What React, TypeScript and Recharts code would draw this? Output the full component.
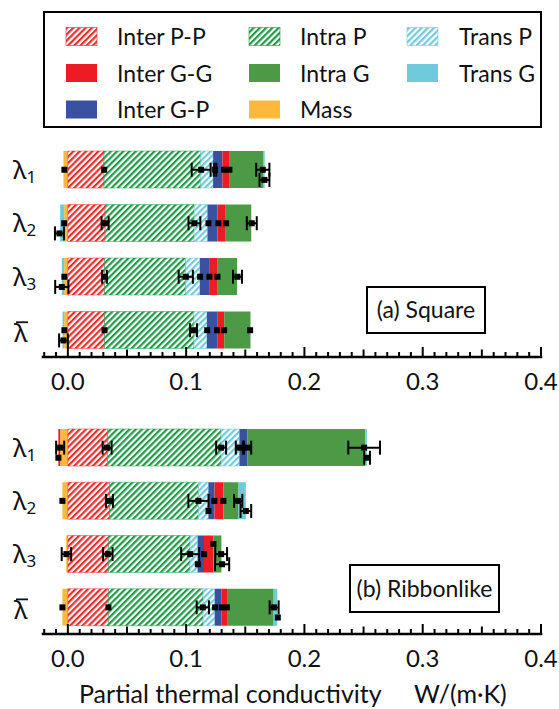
import { ComposedChart, Bar, XAxis, YAxis, Scatter, ErrorBar } from 'recharts'

const CATEGORIES = ['λ1', 'λ2', 'λ3', 'λ\u0304']

// (a) Square
const SQ_MASS = [-0.0037, -0.0031, -0.0031, -0.0031]
const SQ_INTER_PP = [0.0306, 0.0315, 0.031, 0.031]
const SQ_INTRA_P = [0.0818, 0.0753, 0.0686, 0.0756]
const SQ_TRANS_P = [0.0104, 0.0113, 0.012, 0.011]
const SQ_INTER_GP = [0.0079, 0.0084, 0.0084, 0.0087]
const SQ_INTER_GG = [0.0056, 0.007, 0.0062, 0.0059]
const SQ_INTRA_G = [0.0287, 0.0216, 0.0169, 0.0222]
const SQ_TRANS_G = [0.0014, -0.0034, -0.002, -0.0014]

// (b) Ribbonlike
const RB_MASS = [-0.0065, -0.0046, -0.0014, -0.0046]
const RB_INTER_PP = [0.0335, 0.0352, 0.0343, 0.0343]
const RB_INTRA_P = [0.0961, 0.0752, 0.069, 0.0801]
const RB_TRANS_P = [0.0155, 0.0085, 0.0065, 0.0098]
const RB_INTER_GP = [0.0068, 0.0051, 0.0053, 0.0056]
const RB_INTER_GG = [-0.0015, 0.0076, 0.0079, 0.0048]
const RB_INTRA_G = [0.0995, 0.0127, 0.0065, 0.0394]
const RB_TRANS_G = [0.0014, 0.0062, 0.0006, 0.0031]

// error markers: [category index, row (-1 above, 0 centre, 1 below), value, half error]
const SQ_MARKERS = [
    [0, 0, -0.0029, 0], [0, 0, 0.0307, 0], [0, 0, 0.1127, 0.008], [0, 0, 0.1245, 0.001],
    [0, 0, 0.1321, 0], [0, 0, 0.1366, 0], [0, 0, 0.1648, 0.0056], [0, 1, 0.1662, 0.0042],
    [1, 0, -0.0031, 0], [1, 0, 0.0315, 0.003], [1, 0, 0.107, 0.005], [1, 0, 0.1189, 0],
    [1, 0, 0.1273, 0], [1, 0, 0.1338, 0], [1, 0, 0.1555, 0.0042], [1, 1, -0.0071, 0.0038],
    [2, 0, -0.0029, 0], [2, 0, 0.031, 0.002], [2, 0, 0.0997, 0.006], [2, 0, 0.1118, 0],
    [2, 0, 0.1197, 0], [2, 0, 0.1265, 0], [2, 0, 0.1434, 0.0038], [2, 1, -0.0051, 0.0056],
    [3, 0, -0.0029, 0], [3, 0, 0.031, 0], [3, 0, 0.1062, 0.003], [3, 0, 0.1178, 0],
    [3, 0, 0.1262, 0], [3, 0, 0.1321, 0], [3, 0, 0.1541, 0], [3, 1, -0.0037, 0.0037],
]
const RB_MARKERS = [
    [0, 0, -0.0065, 0.0034], [0, 0, 0.0332, 0.0038], [0, 0, 0.1296, 0.0042], [0, 0, 0.145, 0.003],
    [0, 0, 0.152, 0.003], [0, 0, 0.2505, 0.0134], [0, 1, -0.008, 0], [0, 1, 0.253, 0.0024],
    [1, 0, -0.0046, 0], [1, 0, 0.0352, 0.003], [1, 0, 0.1104, 0.0085], [1, 0, 0.1239, 0],
    [1, 0, 0.1315, 0], [1, 0, 0.144, 0.0035], [1, 1, 0.1189, 0], [1, 1, 0.1505, 0.0045],
    [2, 0, -0.0012, 0.004], [2, 0, 0.0338, 0.004], [2, 0, 0.1034, 0.0076], [2, 0, 0.1152, 0],
    [2, 0, 0.1296, 0.005], [2, -1, 0.1231, 0], [2, 1, 0.1099, 0], [2, 1, 0.1304, 0.006],
    [3, 0, -0.0046, 0], [3, 0, 0.0343, 0], [3, 0, 0.1141, 0.0052], [3, 0, 0.1245, 0],
    [3, 0, 0.1302, 0], [3, 0, 0.1344, 0], [3, 0, 0.1744, 0.0038], [3, 1, 0.1775, 0],
]

const MAJOR_TICKS = [0, 0.1, 0.2, 0.3, 0.4]
const X_TICKS = Array.from({ length: 43 }, (_, i) => (i - 2) / 100)
const X_DOMAIN = [-0.021, 0.4]
const Y_TICKS = [0, 0.5, 1, 1.5, 2, 2.5, 3]
const ROW_STEP = 0.19

// stacking order matters: Mass first so it sits next to zero on the negative side
const SERIES = [
    { key: 'mass', label: 'Mass', color: '#FDB93A', hatch: false },
    { key: 'interPP', label: 'Inter P-P', color: '#EE2B2B', hatch: true },
    { key: 'intraP', label: 'Intra P', color: '#1F9B48', hatch: true },
    { key: 'transP', label: 'Trans P', color: '#6FCBDC', hatch: true },
    { key: 'interGP', label: 'Inter G-P', color: '#3A51A2', hatch: false },
    { key: 'interGG', label: 'Inter G-G', color: '#ED1C24', hatch: false },
    { key: 'intraG', label: 'Intra G', color: '#4C9A45', hatch: false },
    { key: 'transG', label: 'Trans G', color: '#6FCBDC', hatch: false },
]

const LEGEND_COLUMNS = [
    ['interPP', 'interGG', 'interGP'],
    ['intraP', 'intraG', 'mass'],
    ['transP', 'transG'],
]

const FONT = 'Lato, "Open Sans", sans-serif'
const LAMBDA_FONT = '"Noto Sans", "DejaVu Sans", sans-serif'
const FRAME = { stroke: '#000', strokeWidth: 2.6, strokeLinecap: 'square' }

const fillFor = (s: any) => (s.hatch ? `url(#hatch-${s.key})` : s.color)

const buildRows = (cols: number[][]) =>
    CATEGORIES.map((name, i) => {
        const row: any = { name }
        SERIES.forEach((s, j) => { row[s.key] = cols[j][i] })
        return row
    })

const SQUARE_ROWS = buildRows([SQ_MASS, SQ_INTER_PP, SQ_INTRA_P, SQ_TRANS_P, SQ_INTER_GP, SQ_INTER_GG, SQ_INTRA_G, SQ_TRANS_G])
const RIBBON_ROWS = buildRows([RB_MASS, RB_INTER_PP, RB_INTRA_P, RB_TRANS_P, RB_INTER_GP, RB_INTER_GG, RB_INTRA_G, RB_TRANS_G])

const XTick = ({ x, y, payload, side }: any) => {
    const v = payload.value
    const k = Math.round(v * 100)
    const len = k % 10 === 0 ? 10 : k % 5 === 0 ? 7.5 : 5
    const dir = side === 'top' ? 1 : -1
    const showLabel = side === 'bottom' && MAJOR_TICKS.some(t => Math.abs(t - v) < 1e-6)
    return (
        <g>
            <line x1={x} x2={x} y1={y} y2={y + dir * len} stroke="#000" strokeWidth={2} />
            {showLabel && (
                <text x={x} y={y + 33} textAnchor="middle" fontSize={24} fontFamily={FONT} fill="#111">
                    {v.toFixed(1)}
                </text>
            )}
        </g>
    )
}

const YTick = ({ x, y, payload, side }: any) => {
    const v = payload.value
    if (!Number.isInteger(v)) {
        const dir = side === 'left' ? 1 : -1
        return <line x1={x} x2={x + dir * 9} y1={y} y2={y} stroke="#000" strokeWidth={2.4} />
    }
    if (side !== 'left') return null
    const name = CATEGORIES[v]
    const rest = name.slice(1)
    if (rest === '\u0304') {
        // mean value: lambda with a bar over it
        return (
            <g>
                <text x={14} y={y + 12} fontSize={26} fontFamily={LAMBDA_FONT} fill="#111">{name[0]}</text>
                <line x1={16} x2={28} y1={y - 8} y2={y - 8} stroke="#111" strokeWidth={1.8} />
            </g>
        )
    }
    return (
        <text x={13} y={y + 9} fontSize={26} fontFamily={LAMBDA_FONT} fill="#111">
            {name[0]}
            <tspan fontSize={17} dy={4}>{rest}</tspan>
        </text>
    )
}

const Marker = (p: any) => <rect x={p.cx - 3} y={p.cy - 3} width={6} height={6} fill="#000" />

function Panel({ rows, markers, top, height, axisHeight }: any) {
    const points = markers.map(([cat, row, v, err]: number[]) => ({ v, pos: cat + row * ROW_STEP, err }))
    return (
        <div style={{ position: 'absolute', left: 0, top }}>
            <ComposedChart
                width={559}
                height={height}
                data={rows}
                layout="vertical"
                stackOffset="sign"
                barCategoryGap="15%"
                margin={{ top: 13, right: 18, bottom: 0, left: 0 }}
            >
                <XAxis type="number" domain={X_DOMAIN} ticks={X_TICKS} interval={0} allowDataOverflow
                    height={axisHeight} tickSize={0} tickMargin={0} axisLine={FRAME} tickLine={false}
                    tick={<XTick side="bottom" />} />
                <XAxis xAxisId="top" orientation="top" type="number" domain={X_DOMAIN} ticks={X_TICKS} interval={0}
                    allowDataOverflow height={0} tickSize={0} tickMargin={0} axisLine={FRAME} tickLine={false}
                    tick={<XTick side="top" />} />
                <YAxis yAxisId="num" type="number" dataKey="pos" domain={[-0.5, 3.5]} ticks={Y_TICKS}
                    interval={0} allowDataOverflow width={43} tickSize={0} tickMargin={0} axisLine={FRAME}
                    tickLine={false} tick={<YTick side="left" />} />
                <YAxis yAxisId="right" orientation="right" type="number" domain={[-0.5, 3.5]} ticks={Y_TICKS}
                    interval={0} allowDataOverflow width={0} tickSize={0} tickMargin={0} axisLine={FRAME}
                    tickLine={false} tick={<YTick side="right" />} />
                <YAxis yAxisId="cat" type="category" dataKey="name" hide />
                {SERIES.map(s => (
                    <Bar
                        key={s.key}
                        yAxisId="cat"
                        dataKey={s.key}
                        stackId="a"
                        fill={fillFor(s)}
                        stroke={s.hatch ? s.color : 'none'}
                        strokeWidth={0.5}
                        isAnimationActive={false}
                    />
                ))}
                <Scatter yAxisId="num" data={points} dataKey="v" shape={Marker} isAnimationActive={false}>
                    <ErrorBar dataKey="err" direction="x" width={7} stroke="#000" strokeWidth={2} isAnimationActive={false} />
                </Scatter>
            </ComposedChart>
        </div>
    )
}

export default function App() {
    const byKey: Record<string, any> = Object.fromEntries(SERIES.map(s => [s.key, s]))
    const colX = [66, 249, 407]
    const textX = [117, 300, 459]
    const rowY = [36.5, 73, 109.5]

    return (
        <div style={{ position: 'relative', width: 559, height: 709, background: '#fff', fontFamily: FONT }}>
            <style>{'body{margin:0}'}</style>
            <svg width={0} height={0} style={{ position: 'absolute' }}>
                <defs>
                    {SERIES.filter(s => s.hatch).map(s => (
                        <pattern key={s.key} id={`hatch-${s.key}`} patternUnits="userSpaceOnUse" width={4.4} height={4.4}
                            patternTransform="rotate(45)">
                            <rect width={4.4} height={4.4} fill="#fff" />
                            <rect width={2.2} height={4.4} fill={s.color} />
                        </pattern>
                    ))}
                </defs>
            </svg>

            <Panel rows={SQUARE_ROWS} markers={SQ_MARKERS} top={130} height={270} axisHeight={43} />
            <Panel rows={RIBBON_ROWS} markers={RB_MARKERS} top={408} height={301} axisHeight={75} />

            <svg width={559} height={709} style={{ position: 'absolute', left: 0, top: 0, pointerEvents: 'none' }}>
                {/* legend */}
                <rect x={44} y={12} width={497} height={115} fill="none" stroke="#000" strokeWidth={2} />
                {LEGEND_COLUMNS.map((col, ci) =>
                    col.map((key, ri) => {
                        const s = byKey[key]
                        return (
                            <g key={key}>
                                <rect x={colX[ci]} y={rowY[ri] - 9} width={31} height={18} fill={fillFor(s)}
                                    stroke={s.hatch ? s.color : 'none'} strokeWidth={0.6} />
                                <text x={textX[ci]} y={rowY[ri] + 8.5} fontSize={23} fontFamily={FONT} fill="#111">{s.label}</text>
                            </g>
                        )
                    })
                )}

                {/* panel labels */}
                <rect x={367} y={287} width={118} height={46} fill="#fff" stroke="#000" strokeWidth={2} />
                <text x={426} y={318} textAnchor="middle" fontSize={23} fontFamily={FONT} fill="#111">(a) Square</text>
                <rect x={350} y={565} width={149} height={47} fill="#fff" stroke="#000" strokeWidth={2} />
                <text x={424.5} y={596.5} textAnchor="middle" fontSize={23} fontFamily={FONT} fill="#111">(b) Ribbonlike</text>

                {/* axis title */}
                <text x={79} y={703} fontSize={25} fontFamily={FONT} fill="#111">
                    Partial thermal conductivity
                    <tspan x={414}>W/(m·K)</tspan>
                </text>
            </svg>
        </div>
    )
}
